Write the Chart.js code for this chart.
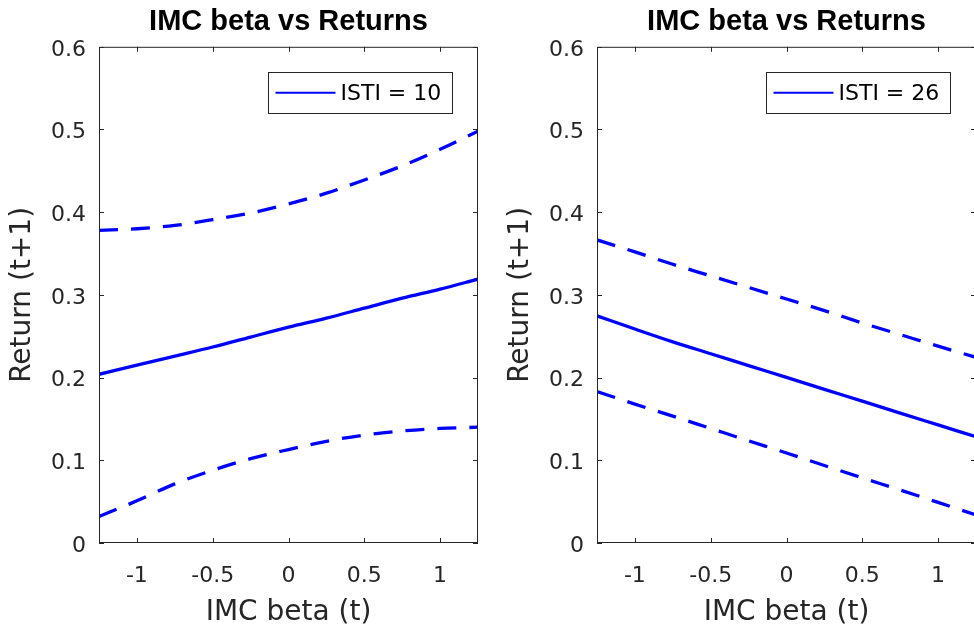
<!DOCTYPE html>
<html>
<head>
<meta charset="utf-8">
<title>IMC beta vs Returns</title>
<script src="https://cdn.jsdelivr.net/npm/chart.js@4.4.1/dist/chart.umd.min.js"></script>
<style>
    html, body { margin: 0; padding: 0; background: #fff; overflow: hidden; width: 974px; height: 635px; }
    .panel { position: absolute; top: 0; width: 488px; height: 635px; }
</style>
</head>
<body>
<div class="panel" style="left:0"><canvas id="c1" width="488" height="635"></canvas></div>
<div class="panel" style="left:498px"><canvas id="c2" width="488" height="635"></canvas></div>
<script>
// x grid the curves were read at
var xVals = [ -1.25, -1, -0.75, -0.5, -0.25, 0, 0.25, 0.5, 0.75, 1, 1.25 ];
var xTicks = [ -1, -0.5, 0, 0.5, 1 ];
var yTicks = [ 0, 0.1, 0.2, 0.3, 0.4, 0.5, 0.6 ];

// ISTI = 10
var fit10 = [ 0.204, 0.215, 0.226, 0.237, 0.249, 0.261, 0.272, 0.284, 0.296, 0.307, 0.319 ];
var upper10 = [ 0.378, 0.380, 0.384, 0.391, 0.399, 0.410, 0.423, 0.439, 0.456, 0.476, 0.498 ];
var lower10 = [ 0.032, 0.051, 0.0715, 0.088, 0.102, 0.113, 0.123, 0.1305, 0.1355, 0.1385, 0.140 ];

// ISTI = 26
var fit26 = [ 0.2746, 0.2587, 0.2432, 0.2289, 0.2145, 0.2002, 0.1858, 0.1715, 0.1571, 0.1428, 0.1285 ];
var upper26 = [ 0.3665, 0.352, 0.337, 0.323, 0.309, 0.295, 0.281, 0.266, 0.252, 0.238, 0.2245 ];
var lower26 = [ 0.1832, 0.168, 0.1534, 0.1385, 0.1236, 0.1088, 0.0937, 0.0788, 0.064, 0.0491, 0.034 ];

var panelTitle = 'IMC beta vs Returns';
var xLabel = 'IMC beta (t)';
var yLabel = 'Return (t+1)';

var BLUE = '#0000ff';
var AXIS = '#262626';
var FONT = 'DejaVu Sans';

var toPoints = function ( ys ) {
    return xVals.map( function ( x, i ) {
        return { x: x, y: ys[ i ] };
    } );
};

// matlab style box with inward ticks on all four sides
var axesBox = {
    id: 'axesBox',
    afterDatasetsDraw: function ( chart ) {
        var ctx = chart.ctx;
        var a = chart.chartArea;
        var xs = chart.scales.x;
        var ys = chart.scales.y;
        var len = 5;
        ctx.save();
        ctx.strokeStyle = AXIS;
        ctx.lineWidth = 1;
        ctx.beginPath();
        ctx.rect( a.left + 0.5, a.top + 0.5, a.right - a.left - 1, a.bottom - a.top - 1 );
        xs.ticks.forEach( function ( t ) {
            var px = Math.round( xs.getPixelForValue( t.value ) ) + 0.5;
            ctx.moveTo( px, a.bottom );
            ctx.lineTo( px, a.bottom - len );
            ctx.moveTo( px, a.top );
            ctx.lineTo( px, a.top + len );
        } );
        ys.ticks.forEach( function ( t ) {
            var py = Math.round( ys.getPixelForValue( t.value ) ) + 0.5;
            ctx.moveTo( a.left, py );
            ctx.lineTo( a.left + len, py );
            ctx.moveTo( a.right, py );
            ctx.lineTo( a.right - len, py );
        } );
        ctx.stroke();
        // bottom axis looks a bit heavier in the original
        ctx.beginPath();
        ctx.moveTo( a.left, a.bottom - 0.5 );
        ctx.lineTo( a.right, a.bottom - 0.5 );
        ctx.stroke();
        ctx.restore();
    }
};

// boxed legend, top right of the axes, only the fitted line
var legendBox = {
    id: 'legendBox',
    afterDraw: function ( chart ) {
        var ctx = chart.ctx;
        var a = chart.chartArea;
        var ds = chart.data.datasets[ 0 ];
        var w = 184, h = 41;
        var x0 = a.right - 26.5 - w;
        var y0 = a.top + 25.5;
        var mid = y0 + h / 2;
        ctx.save();
        ctx.fillStyle = '#fff';
        ctx.fillRect( x0, y0, w, h );
        ctx.strokeStyle = AXIS;
        ctx.lineWidth = 1;
        ctx.strokeRect( Math.round( x0 ) + 0.5, Math.round( y0 ) + 0.5, w, h );
        ctx.strokeStyle = ds.borderColor;
        ctx.lineWidth = 2;
        ctx.beginPath();
        ctx.moveTo( x0 + 8, mid );
        ctx.lineTo( x0 + 68, mid );
        ctx.stroke();
        ctx.fillStyle = '#000';
        ctx.font = '22px "' + FONT + '"';
        ctx.textBaseline = 'middle';
        ctx.textAlign = 'left';
        ctx.fillText( ds.label, x0 + 73, mid + 1 );
        ctx.restore();
    }
};

var makePanel = function ( canvasId, label, fit, upper, lower ) {
    var lineStyle = { borderColor: BLUE, borderWidth: 3.3, pointRadius: 0, cubicInterpolationMode: 'monotone', fill: false };
    var dashed = Object.assign( {}, lineStyle, { borderDash: [ 19, 13 ], borderCapStyle: 'butt' } );

    return new Chart( document.getElementById( canvasId ), {
        type: 'line',
        data: {
            datasets: [
                Object.assign( { label: label, data: toPoints( fit ) }, lineStyle ),
                Object.assign( { label: 'upper', data: toPoints( upper ) }, dashed ),
                Object.assign( { label: 'lower', data: toPoints( lower ) }, dashed )
            ]
        },
        options: {
            responsive: false,
            animation: false,
            devicePixelRatio: 1,
            events: [],
            layout: { padding: { left: 0, right: 10, top: 0, bottom: 0 } },
            plugins: {
                legend: { display: false },
                tooltip: { enabled: false },
                title: {
                    display: true,
                    text: panelTitle,
                    color: '#000',
                    fullSize: false,
                    font: { family: 'Liberation Sans', size: 29, weight: 'bold' },
                    padding: { top: 5, bottom: 7 }
                }
            },
            scales: {
                x: {
                    type: 'linear',
                    min: -1.25,
                    max: 1.25,
                    afterBuildTicks: function ( s ) {
                        s.ticks = xTicks.map( function ( v ) { return { value: v }; } );
                    },
                    afterFit: function ( s ) { s.height = 92; },
                    grid: { display: false, drawTicks: false },
                    border: { display: false },
                    ticks: {
                        color: AXIS,
                        maxRotation: 0,
                        autoSkip: false,
                        padding: 20,
                        font: { family: FONT, size: 22 },
                        callback: function ( v ) { return String( v ); }
                    },
                    title: {
                        display: true,
                        text: xLabel,
                        color: AXIS,
                        font: { family: FONT, size: 28 },
                        padding: { top: 0, bottom: 5 }
                    }
                },
                y: {
                    type: 'linear',
                    min: 0,
                    max: 0.6,
                    afterBuildTicks: function ( s ) {
                        s.ticks = yTicks.map( function ( v ) { return { value: v }; } );
                    },
                    afterFit: function ( s ) { s.width = 99; },
                    grid: { display: false, drawTicks: false },
                    border: { display: false },
                    ticks: {
                        color: AXIS,
                        padding: 13,
                        labelOffset: 3,
                        font: { family: FONT, size: 22 },
                        callback: function ( v ) { return String( v ); }
                    },
                    title: {
                        display: true,
                        text: yLabel,
                        color: AXIS,
                        font: { family: FONT, size: 28 },
                        padding: { top: 6, bottom: 0 }
                    }
                }
            }
        },
        plugins: [ axesBox, legendBox ]
    } );
};

makePanel( 'c1', 'ISTI = 10', fit10, upper10, lower10 );
makePanel( 'c2', 'ISTI = 26', fit26, upper26, lower26 );
</script>
</body>
</html>
